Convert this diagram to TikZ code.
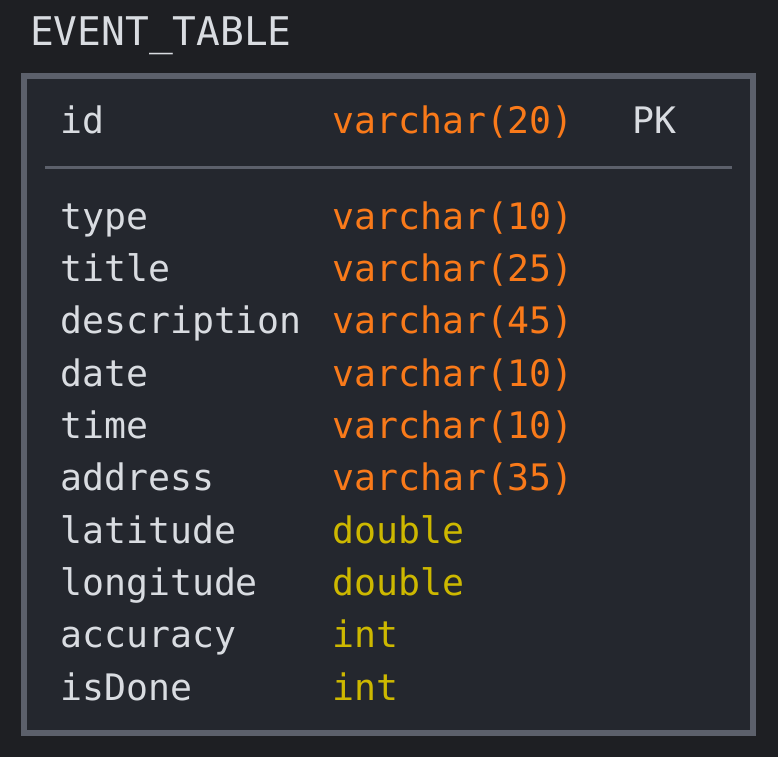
\documentclass[tikz,border=0pt]{standalone}
\usepackage{fontspec}
\newfontfamily\dbmono{DejaVu Sans Mono}
\definecolor{pagebg}{HTML}{1E1F23}
\definecolor{tablebg}{HTML}{24272E}
\definecolor{framecol}{HTML}{5C606B}
\definecolor{fieldtext}{HTML}{D9DCE1}
\definecolor{vcharcol}{HTML}{F97A1A}
\definecolor{numcol}{HTML}{CDB800}

\begin{document}
\begin{tikzpicture}[x=1pt,y=-1pt,
  colname/.style={anchor=base west,inner sep=0pt,text=fieldtext,font=\dbmono\fontsize{36.5}{40}\selectfont},
  tabtitle/.style={colname,font=\dbmono\fontsize{39.5}{44}\selectfont},
  tableframe/.style={draw=framecol,line width=6pt,fill=tablebg},
  sepline/.style={draw=framecol,line width=3pt}]
  \fill[pagebg] (0,0) rectangle (778,757);
  \node[tabtitle] (title) at (30,46) {EVENT\_TABLE};
  \draw[tableframe] (24,76) rectangle (753,733);
  \node[colname] (idname) at (60,133) {id};
  \node[colname,text=vcharcol] (idtype) at (332,133) {varchar(20)};
  \node[colname] (idkey) at (632,133) {PK};
  \draw[sepline] (45,167.5) -- (732,167.5);
  \foreach [count=\i] \fname/\ftype/\fcol in {type/varchar(10)/vcharcol,title/varchar(25)/vcharcol,
      description/varchar(45)/vcharcol,date/varchar(10)/vcharcol,time/varchar(10)/vcharcol,
      address/varchar(35)/vcharcol,latitude/double/numcol,longitude/double/numcol,
      accuracy/int/numcol,isDone/int/numcol}{
    \node[colname] (name\i) at (60,{229.3+(\i-1)*52.33}) {\fname};
    \node[colname,text=\fcol] (type\i) at (332,{229.3+(\i-1)*52.33}) {\ftype};}
\end{tikzpicture}
\end{document}
